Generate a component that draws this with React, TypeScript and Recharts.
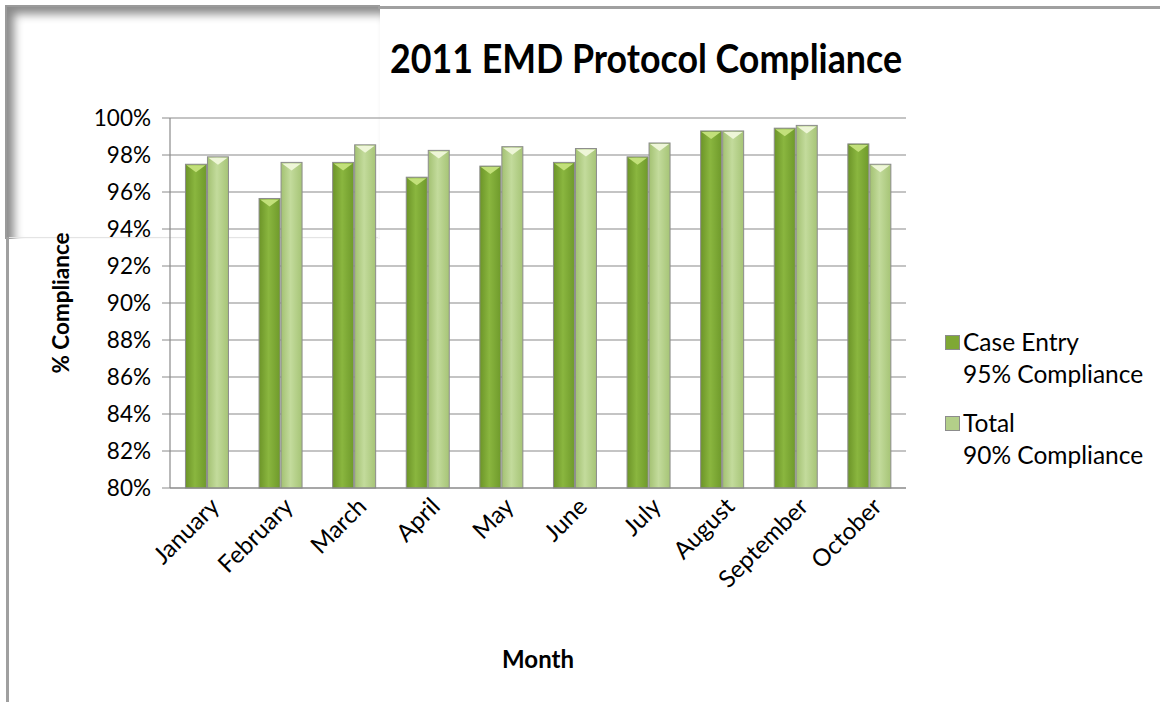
import React from "react";
import {
  BarChart,
  Bar,
  XAxis,
  YAxis,
  CartesianGrid,
  Legend,
} from "recharts";

const MONTHS = [
  "January",
  "February",
  "March",
  "April",
  "May",
  "June",
  "July",
  "August",
  "September",
  "October",
];
const CASE_ENTRY = [97.5, 95.65, 97.6, 96.8, 97.4, 97.6, 97.9, 99.3, 99.45, 98.6];
const TOTAL = [97.9, 97.6, 98.55, 98.25, 98.45, 98.35, 98.65, 99.3, 99.6, 97.5];
const Y_TICKS = [80, 82, 84, 86, 88, 90, 92, 94, 96, 98, 100];

const FONT = "Lato, 'Open Sans', sans-serif";

const chartData = MONTHS.map((m, i) => ({
  month: m,
  caseEntry: CASE_ENTRY[i],
  total: TOTAL[i],
}));

function BevelBar(props: any) {
  const { x, y, width, height, fill, top } = props;
  if (!height || height <= 0) return null;
  return (
    <g>
      <rect x={x} y={y} width={width} height={height} fill={fill} stroke="#8c8c8c" strokeWidth={1} />
      <polygon
        points={`${x + 1},${y + 1} ${x + width - 1},${y + 1} ${x + width / 2},${y + 8}`}
        fill={top}
      />
    </g>
  );
}

function MonthTick(props: any) {
  const { x, y, payload } = props;
  const ax = x + 14;
  const ay = y + 12;
  return (
    <text
      x={ax}
      y={ay}
      transform={`rotate(-45 ${ax} ${ay})`}
      textAnchor="end"
      fontFamily={FONT}
      fontSize={24}
      fill="#000"
    >
      {payload.value}
    </text>
  );
}

function LegendBox() {
  const items = [
    { name: "Case Entry", sub: "95% Compliance", fill: "#7fa834" },
    { name: "Total", sub: "90% Compliance", fill: "#b3cf89" },
  ];
  return (
    <div style={{ fontFamily: FONT, fontSize: 24.5, lineHeight: "32px", color: "#000" }}>
      {items.map((it, i) => (
        <div key={it.name} style={{ marginBottom: i === 0 ? 17 : 0 }}>
          <div style={{ display: "flex", alignItems: "center" }}>
            <svg width={15} height={15} style={{ marginRight: 3 }}>
              <rect x={0.5} y={0.5} width={14} height={14} fill={it.fill} stroke="#8c8c8c" />
            </svg>
            <span>{it.name}</span>
          </div>
          <div style={{ paddingLeft: 18 }}>{it.sub}</div>
        </div>
      ))}
    </div>
  );
}

export default function App() {
  return (
    <div style={{ position: "absolute", left: 0, top: 0, width: 1167, height: 702, background: "#fff", overflow: "hidden" }}>
      {/* frame remnants */}
      <div
        style={{
          position: "absolute",
          left: 5,
          top: 5,
          width: 373,
          height: 232,
          borderLeft: "2px solid #9a9a9a",
          borderTop: "2px solid #9a9a9a",
          boxShadow: "inset 7px 7px 10px #8a8a8a",
          background: "#fff",
        }}
      />
      <div style={{ position: "absolute", left: 378, top: 6, width: 782, height: 3, background: "#a0a0a0" }} />
      <div style={{ position: "absolute", left: 6, top: 237, width: 3, height: 465, background: "#a0a0a0" }} />
      <div style={{ position: "absolute", left: 9, top: 237, width: 369, height: 1, background: "#e4e4e4" }} />

      <svg style={{ position: "absolute", left: 0, top: 0 }} width={1167} height={702}>
        <text
          x={646}
          y={73}
          textAnchor="middle"
          fontFamily={FONT}
          fontWeight={700}
          fontSize={40}
          textLength={512}
          lengthAdjust="spacingAndGlyphs"
          fill="#000"
        >
          2011 EMD Protocol Compliance
        </text>
        <text
          x={69}
          y={303}
          transform="rotate(-90 69 303)"
          textAnchor="middle"
          fontFamily={FONT}
          fontWeight={700}
          fontSize={22.5}
          fill="#000"
        >
          % Compliance
        </text>
        <text
          x={538}
          y={668}
          textAnchor="middle"
          fontFamily={FONT}
          fontWeight={700}
          fontSize={24}
          fill="#000"
        >
          Month
        </text>
      </svg>

      <div style={{ position: "absolute", left: 0, top: 0 }}>
        <BarChart
          width={1167}
          height={702}
          data={chartData}
          margin={{ top: 118, right: 41, bottom: 114, left: 80 }}
          barCategoryGap="21%"
          barGap={1}
        >
          <defs>
            <linearGradient id="gCase" x1="0" y1="0" x2="1" y2="0">
              <stop offset="0%" stopColor="#6c9428" />
              <stop offset="45%" stopColor="#8ab63f" />
              <stop offset="100%" stopColor="#6f9a2b" />
            </linearGradient>
            <linearGradient id="gTotal" x1="0" y1="0" x2="1" y2="0">
              <stop offset="0%" stopColor="#a3c172" />
              <stop offset="45%" stopColor="#c3db9c" />
              <stop offset="100%" stopColor="#a6c476" />
            </linearGradient>
          </defs>
          <CartesianGrid vertical={false} stroke="#8a8a8a" strokeWidth={1.2} />
          <XAxis
            dataKey="month"
            interval={0}
            height={100}
            tickLine={false}
            axisLine={{ stroke: "#8a8a8a", strokeWidth: 1.2 }}
            tick={<MonthTick />}
          />
          <YAxis
            domain={[80, 100]}
            ticks={Y_TICKS}
            width={90}
            tickFormatter={(v: number) => `${v}%`}
            tickLine={{ stroke: "#8a8a8a" }}
            tickSize={8}
            tickMargin={11}
            axisLine={{ stroke: "#8a8a8a", strokeWidth: 1.2 }}
            tick={{ fontFamily: FONT, fontSize: 22.5, fill: "#000" }}
          />
          <Legend
            layout="vertical"
            verticalAlign="top"
            align="right"
            wrapperStyle={{ left: 945, top: 326, width: 220 }}
            content={() => <LegendBox />}
          />
          <Bar
            dataKey="caseEntry"
            name="Case Entry 95% Compliance"
            fill="url(#gCase)"
            isAnimationActive={false}
            shape={(p: any) => <BevelBar {...p} top="#c2e07a" />}
          />
          <Bar
            dataKey="total"
            name="Total 90% Compliance"
            fill="url(#gTotal)"
            isAnimationActive={false}
            shape={(p: any) => <BevelBar {...p} top="#eef6d8" />}
          />
        </BarChart>
      </div>
    </div>
  );
}
